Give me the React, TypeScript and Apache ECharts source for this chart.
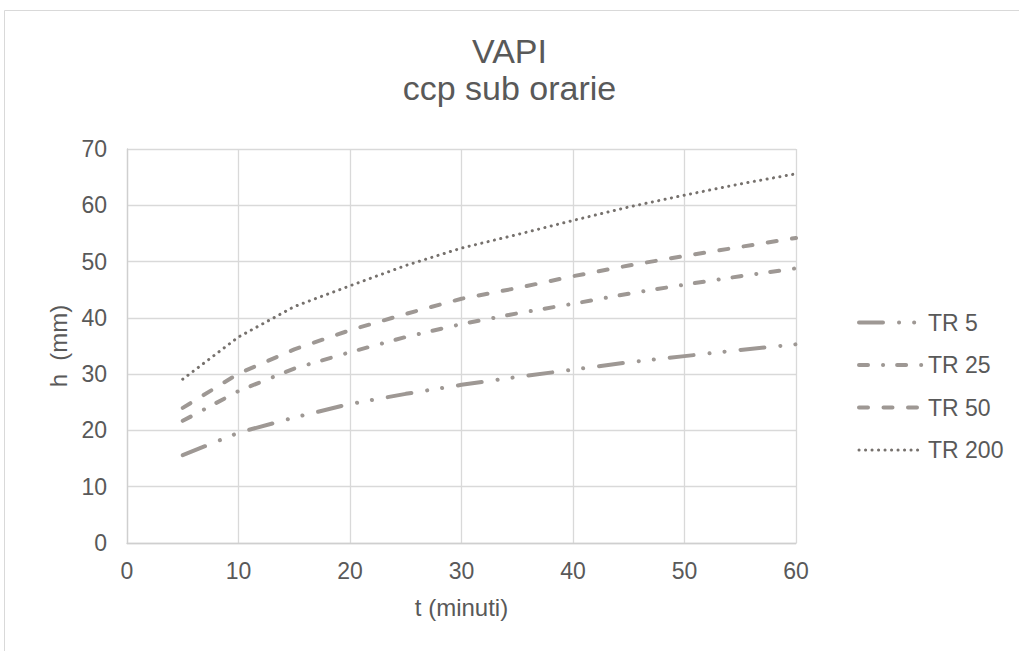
import React, { useEffect, useRef } from "react";
import * as echarts from "echarts";

// Duration (minutes) and rainfall depth h (mm) for each return period
const durations = [5, 10, 15, 20, 25, 30, 35, 40, 45, 50, 55, 60];
const tr5 = [15.6, 19.6, 22.3, 24.7, 26.5, 28.1, 29.5, 30.8, 32.1, 33.2, 34.3, 35.3];
const tr25 = [21.7, 27.0, 31.0, 33.9, 36.6, 38.9, 40.8, 42.5, 44.3, 45.9, 47.4, 48.8];
const tr50 = [24.0, 30.1, 34.4, 37.8, 40.7, 43.4, 45.3, 47.4, 49.3, 51.0, 52.6, 54.2];
const tr200 = [29.1, 36.6, 42.0, 45.7, 49.3, 52.4, 54.8, 57.3, 59.7, 61.8, 63.8, 65.6];

const seriesNames = ["TR 5", "TR 25", "TR 50", "TR 200"];
const xTicks = { min: 0, max: 60, interval: 10 };
const yTicks = { min: 0, max: 70, interval: 10 };

const textColor = "#595959";
const lineColor = "#9e9894";
const dotColor = "#76716d";
const font = "Liberation Sans, Arial, sans-serif";

const pairs = (ys: number[]) => durations.map((t, i) => [t, ys[i]]);

export default function App() {
  const ref = useRef<HTMLDivElement>(null);

  useEffect(() => {
    if (!ref.current) return;
    const chart = echarts.init(ref.current, undefined, { renderer: "svg" });

    const mk = (name: string, data: number[], width: number, color: string, dash: number[]) => ({
      name,
      type: "line",
      data: pairs(data),
      symbol: "none",
      lineStyle: { width, color, type: dash, cap: "round" },
      itemStyle: { color },
    });

    chart.setOption({
      animation: false,
      backgroundColor: "#ffffff",
      textStyle: { fontFamily: font },
      graphic: [
        {
          type: "rect",
          shape: { x: 4.5, y: 10.5, width: 1100, height: 800 },
          style: { fill: "none", stroke: "#d9d9d9", lineWidth: 1 },
          silent: true,
        },
      ],
      title: [
        {
          text: "VAPI",
          left: "center",
          top: 29,
          textStyle: { fontSize: 34, fontWeight: "normal", color: textColor, fontFamily: font },
        },
        {
          text: "ccp sub orarie",
          left: "center",
          top: 66,
          textStyle: { fontSize: 34, fontWeight: "normal", color: textColor, fontFamily: font },
        },
      ],
      legend: {
        orient: "vertical",
        left: 852,
        top: 306,
        itemWidth: 64,
        itemHeight: 14,
        itemGap: 19.5,
        data: seriesNames,
        itemStyle: { opacity: 0 },
        lineStyle: { width: "inherit" },
        textStyle: { fontSize: 23, color: textColor, fontFamily: font },
      },
      grid: { left: 127, right: 223, top: 149, bottom: 108, containLabel: false },
      xAxis: {
        type: "value",
        ...xTicks,
        name: "t (minuti)",
        nameLocation: "middle",
        nameGap: 52,
        nameTextStyle: { fontSize: 24, color: textColor },
        axisLine: { lineStyle: { color: "#cfcfcf", width: 1.3 } },
        axisTick: { show: false },
        axisLabel: { fontSize: 23, color: textColor, margin: 16 },
        splitLine: { lineStyle: { color: "#d9d9d9", width: 1.3 } },
      },
      yAxis: {
        type: "value",
        ...yTicks,
        name: "h  (mm)",
        nameLocation: "middle",
        nameGap: 55,
        nameTextStyle: { fontSize: 24, color: textColor },
        axisLine: { show: true, lineStyle: { color: "#cfcfcf", width: 1.3 } },
        axisTick: { show: false },
        axisLabel: { fontSize: 23, color: textColor, margin: 20 },
        splitLine: { lineStyle: { color: "#d9d9d9", width: 1.3 } },
      },
      series: [
        mk(seriesNames[0], tr5, 4, lineColor, [24, 16, 0.1, 15, 0.1, 16]),
        mk(seriesNames[1], tr25, 4, lineColor, [9, 15, 0.1, 14]),
        mk(seriesNames[2], tr50, 4, lineColor, [9, 15.5]),
        mk(seriesNames[3], tr200, 3, dotColor, [0.1, 6.4]),
      ],
    });

    return () => chart.dispose();
  }, []);

  return (
    <div
      ref={ref}
      style={{ position: "absolute", left: 0, top: 0, width: 1019, height: 651 }}
    />
  );
}
